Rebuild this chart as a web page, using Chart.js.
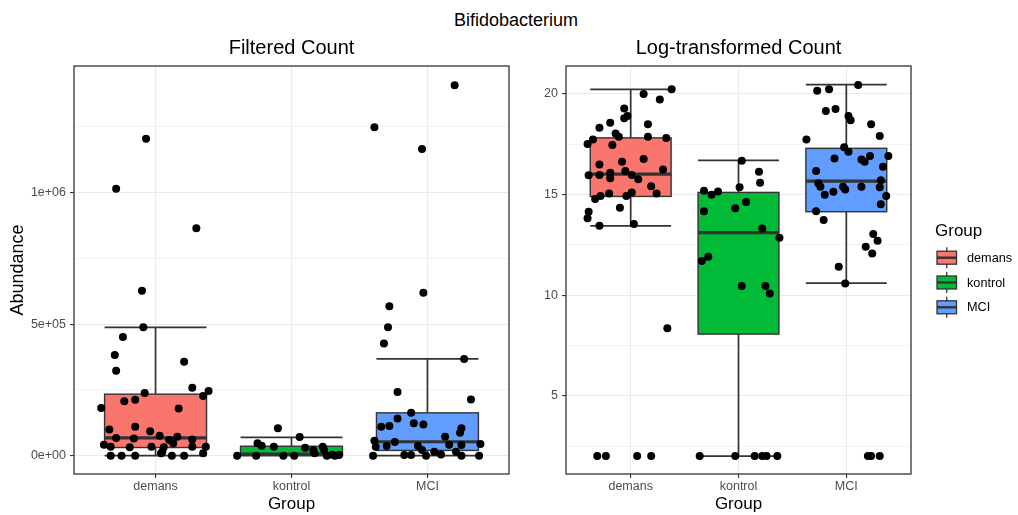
<!DOCTYPE html>
<html>
<head>
<title>Bifidobacterium</title>
<script src="https://cdn.jsdelivr.net/npm/chart.js@4"></script>
<style>
  body { margin: 0; background: #fff; width: 1018px; height: 515px; position: relative; overflow: hidden;
         font-family: "Liberation Sans", Arial, sans-serif; }
  #title { position: absolute; top: 10px; left: 516px; transform: translateX(-50%);
           font-size: 18px; line-height: 20px; white-space: nowrap; color: #000; }
  #left { position: absolute; left: 0; top: 0; }
  #right { position: absolute; left: 520px; top: 0; }
</style>
</head>
<body>
<div id="title">Bifidobacterium</div>
<canvas id="left" width="520" height="515"></canvas>
<canvas id="right" width="498" height="515"></canvas>

<script>
const groups = ['demans', 'kontrol', 'MCI'];

// box stats per group: lower whisker, Q1, median, Q3, upper whisker
const filteredBoxes = [
  [0, 31000, 68000, 234000, 488000],
  [0, 2000, 6000, 36000, 70000],
  [0, 20000, 53000, 163000, 368000]
];
const logBoxes = [
  [13.44, 14.90, 16.01, 17.81, 20.22],
  [2.0, 8.06, 13.10, 15.10, 16.69],
  [10.59, 14.14, 15.66, 17.29, 20.45]
];

const filteredMajorTicks = [0, 500000, 1000000];
const filteredTickLabels = ['0e+00', '5e+05', '1e+06'];
const filteredMinorTicks = [250000, 750000, 1250000];
const logMajorTicks = [5, 10, 15, 20];
const logTickLabels = ['5', '10', '15', '20'];
const logMinorTicks = [2.5, 7.5, 12.5, 17.5];

// filtered counts (values + horizontal jitter around the group)
const filteredDemans = [1205000, 1015000, 865000, 627000, 488000, 451000, 383000, 323000, 357000, 258000,
  238000, 246000, 227000, 181000, 207000, 213000, 179000, 100000, 110000, 93000,
  67000, 65000, 76000, 60000, 72000, 62000, 42000, 34000, 32000, 34000,
  32000, 47000, 34000, 34000, 9000, 15000, 0, 0, 0, 9000, 0, 0];
const filteredDemansJitter = [-0.07, -0.29, 0.30, -0.10, -0.09, -0.24, -0.30, -0.29, 0.21, 0.27,
  -0.08, 0.39, 0.35, -0.40, -0.23, -0.15, 0.17, -0.34, -0.15, -0.04,
  -0.29, -0.16, 0.03, 0.10, 0.16, 0.27, -0.38, -0.33, -0.19, -0.03,
  0.06, 0.13, 0.27, 0.37, 0.35, 0.05, -0.33, -0.25, -0.15, 0.04, 0.12, 0.21];

const filteredKontrol = [104000, 71000, 47000, 38000, 34000, 30000, 22000, 34000, 22000,
  0, 0, 0, 0, 9000, 0, 0, 3000, 4000];
const filteredKontrolJitter = [-0.10, 0.06, -0.25, -0.22, -0.13, 0.10, 0.16, 0.23, 0.24,
  -0.40, -0.26, -0.06, 0.02, 0.17, 0.26, 0.32, 0.35, 0.30];

const filteredMCI = [1409000, 1249000, 1166000, 620000, 568000, 488000, 427000, 368000, 242000, 214000,
  163000, 141000, 110000, 113000, 123000, 119000, 104000, 87000, 72000, 57000,
  52000, 42000, 34000, 37000, 37000, 41000, 44000, 22000, 15000, 15000,
  0, 3000, 3000, 0, 5000, 0, 0];
const filteredMCIJitter = [0.20, -0.39, -0.04, -0.03, -0.28, -0.29, -0.32, 0.27, -0.22, 0.32,
  -0.12, -0.22, -0.34, -0.28, -0.10, -0.03, 0.25, 0.24, 0.13, -0.39,
  -0.24, 0.16, -0.38, -0.30, -0.07, 0.25, 0.39, -0.04, 0.05, 0.21,
  -0.40, -0.17, -0.12, -0.01, 0.10, 0.25, 0.38];

// log-transformed counts
const logDemans = [20.22, 19.99, 19.72, 19.27, 18.89, 18.78, 18.56, 18.48, 18.31, 18.03,
  17.86, 17.86, 17.80, 17.73, 17.50, 17.45, 16.76, 16.62, 16.49, 16.24,
  16.16, 16.08, 15.95, 15.96, 15.96, 15.80, 15.75, 15.41, 15.05, 15.10,
  15.05, 14.92, 14.77, 14.92, 14.34, 14.14, 13.81, 13.44, 13.53, 8.35,
  2.0, 2.0, 2.0, 2.0];
const logDemansJitter = [0.38, 0.12, 0.27, -0.06, -0.03, -0.06, -0.19, 0.16, -0.29, -0.14,
  -0.11, 0.16, 0.33, -0.35, -0.40, -0.17, 0.12, -0.08, -0.29, 0.30,
  -0.05, -0.19, -0.39, -0.29, 0.01, -0.19, 0.07, 0.19, -0.20, 0.01,
  0.24, -0.28, -0.33, -0.04, -0.10, -0.39, -0.40, -0.29, 0.03, 0.34,
  -0.31, -0.23, 0.06, 0.19];

const logKontrol = [16.67, 16.13, 15.58, 15.35, 15.18, 14.98, 15.15, 14.62, 14.31, 14.16,
  13.31, 12.85, 11.90, 11.69, 10.45, 10.45, 10.08,
  2.0, 2.0, 2.0, 2.0, 2.0, 2.0];
const logKontrolJitter = [0.03, 0.19, 0.20, 0.01, -0.32, -0.25, -0.19, 0.07, -0.03, -0.32,
  0.22, 0.38, -0.28, -0.34, 0.03, 0.25, 0.29,
  -0.36, -0.03, 0.15, 0.22, 0.26, 0.36];

const logMCI = [20.43, 20.15, 20.23, 19.14, 19.24, 18.89, 18.69, 18.49, 17.90, 17.73,
  17.34, 17.12, 16.79, 16.74, 16.62, 16.91, 16.91, 16.37, 16.16, 15.71,
  15.55, 15.38, 15.38, 15.25, 15.38, 15.35, 15.13, 14.98, 14.92, 14.51,
  14.16, 13.73, 13.03, 12.70, 12.40, 12.07, 11.41, 10.58,
  2.0, 2.0, 2.0];
const logMCIJitter = [0.11, -0.27, -0.16, -0.19, -0.10, 0.02, 0.04, 0.23, 0.31, -0.37,
  -0.02, 0.02, -0.11, 0.14, 0.17, 0.22, 0.39, 0.34, -0.28, 0.32,
  -0.26, -0.24, -0.03, -0.01, 0.14, 0.31, -0.12, -0.20, 0.37, 0.32,
  -0.28, -0.21, 0.25, 0.29, 0.18, 0.24, -0.07, -0.01,
  0.20, 0.23, 0.31];

const groupColors = ['#F8766D', '#00BA38', '#619CFF'];
const lineColor = '#333333';
const boxWidth = 0.75;

Chart.defaults.font.family = "'Liberation Sans', Arial, sans-serif";

function toPoints(values, jitter, groupIndex) {
  return values.map((v, i) => ({ x: groupIndex + 1 + jitter[i], y: v }));
}

const boxplotPlugin = {
  id: 'boxplot',
  beforeDatasetsDraw(chart, args, opts) {
    const { ctx, chartArea, scales: { x, y } } = chart;
    ctx.save();
    ctx.beginPath();
    ctx.rect(chartArea.left, chartArea.top, chartArea.width, chartArea.height);
    ctx.clip();
    opts.stats.forEach((s, i) => {
      const cx = x.getPixelForValue(i + 1);
      const x0 = x.getPixelForValue(i + 1 - boxWidth / 2);
      const x1 = x.getPixelForValue(i + 1 + boxWidth / 2);
      const [lo, q1, med, q3, hi] = s.map(v => y.getPixelForValue(v));
      ctx.strokeStyle = lineColor;
      // errorbar with caps
      ctx.lineWidth = 1.7;
      ctx.beginPath();
      ctx.moveTo(cx, lo); ctx.lineTo(cx, hi);
      ctx.moveTo(x0, lo); ctx.lineTo(x1, lo);
      ctx.moveTo(x0, hi); ctx.lineTo(x1, hi);
      ctx.stroke();
      // box
      ctx.fillStyle = groupColors[i];
      ctx.fillRect(x0, q3, x1 - x0, q1 - q3);
      ctx.lineWidth = 1.4;
      ctx.strokeRect(x0, q3, x1 - x0, q1 - q3);
      // median
      ctx.lineWidth = 3.2;
      ctx.beginPath();
      ctx.moveTo(x0, med); ctx.lineTo(x1, med);
      ctx.stroke();
    });
    ctx.restore();
  },
  afterDraw(chart, args, opts) {
    const { ctx, chartArea } = chart;
    ctx.save();
    // panel border
    ctx.strokeStyle = lineColor;
    ctx.lineWidth = 1.3;
    ctx.strokeRect(chartArea.left, chartArea.top, chartArea.width, chartArea.height);
    // panel title
    ctx.fillStyle = '#000';
    ctx.font = "20px 'Liberation Sans', Arial, sans-serif";
    ctx.textAlign = 'center';
    ctx.textBaseline = 'middle';
    ctx.fillText(opts.title, (chartArea.left + chartArea.right) / 2, 48);
    // legend
    if (opts.legend) {
      const lx = chartArea.right + 26;
      ctx.textAlign = 'left';
      ctx.font = "17px 'Liberation Sans', Arial, sans-serif";
      ctx.fillText('Group', lx - 2, 231);
      ctx.font = "12.7px 'Liberation Sans', Arial, sans-serif";
      groups.forEach((g, i) => {
        const cy = 257.7 + i * 24.8;
        const kx = lx, kw = 19.5, bh = 13;
        ctx.strokeStyle = lineColor;
        ctx.lineWidth = 1.3;
        ctx.beginPath();
        ctx.moveTo(kx + kw / 2, cy - bh / 2 - 4); ctx.lineTo(kx + kw / 2, cy + bh / 2 + 4);
        ctx.stroke();
        ctx.fillStyle = groupColors[i];
        ctx.fillRect(kx, cy - bh / 2, kw, bh);
        ctx.strokeRect(kx, cy - bh / 2, kw, bh);
        ctx.lineWidth = 2.4;
        ctx.beginPath();
        ctx.moveTo(kx, cy); ctx.lineTo(kx + kw, cy);
        ctx.stroke();
        ctx.fillStyle = '#000';
        ctx.fillText(g, kx + 30, cy + 0.5);
      });
    }
    ctx.restore();
  }
};

function buildPanel(id, cfg) {
  const isMajor = v => cfg.majorTicks.includes(v);
  const datasets = cfg.series.map(([values, jitter], gi) => ({
    data: toPoints(values, jitter, gi),
    backgroundColor: '#000',
    borderWidth: 0,
    pointRadius: 4,
    pointHoverRadius: 4
  }));

  return new Chart(document.getElementById(id), {
    type: 'scatter',
    data: { datasets },
    plugins: [boxplotPlugin],
    options: {
      responsive: false,
      animation: false,
      layout: { padding: { top: 66, left: 0, right: cfg.padRight, bottom: 0 } },
      plugins: {
        legend: { display: false },
        tooltip: { enabled: false },
        boxplot: { stats: cfg.boxes, title: cfg.title, legend: cfg.legend }
      },
      scales: {
        x: {
          type: 'linear',
          min: 0.4,
          max: 3.6,
          afterBuildTicks: s => { s.ticks = groups.map((g, i) => ({ value: i + 1 })); },
          afterFit: s => { s.height = 41; },
          ticks: {
            callback: v => groups[v - 1],
            color: '#4D4D4D',
            font: { size: 12.5 },
            padding: 1,
            maxRotation: 0
          },
          grid: { color: '#EBEBEB', lineWidth: 1.1, tickColor: lineColor, tickLength: 4 },
          border: { display: false },
          title: { display: true, text: 'Group', color: '#000', font: { size: 17 }, padding: 0 }
        },
        y: {
          type: 'linear',
          min: cfg.yMin,
          max: cfg.yMax,
          afterBuildTicks: s => {
            s.ticks = cfg.majorTicks.concat(cfg.minorTicks).sort((a, b) => a - b).map(v => ({ value: v }));
          },
          afterFit: s => { s.width = cfg.yWidth; },
          ticks: {
            callback: v => isMajor(v) ? cfg.tickLabels[cfg.majorTicks.indexOf(v)] : '',
            color: '#4D4D4D',
            font: { size: 12.5 },
            padding: 4
          },
          grid: {
            color: '#EBEBEB',
            lineWidth: c => isMajor(c.tick.value) ? 1.1 : 0.6,
            tickColor: c => isMajor(c.tick.value) ? lineColor : 'rgba(0,0,0,0)',
            tickLength: 4
          },
          border: { display: false },
          title: {
            display: cfg.yTitle !== '',
            text: cfg.yTitle,
            color: '#000',
            font: { size: 18 },
            padding: { top: 7, bottom: 0 }
          }
        }
      }
    }
  });
}

buildPanel('left', {
  title: 'Filtered Count',
  yTitle: 'Abundance',
  yMin: -69600,
  yMax: 1481800,
  yWidth: 74,
  padRight: 11,
  majorTicks: filteredMajorTicks,
  minorTicks: filteredMinorTicks,
  tickLabels: filteredTickLabels,
  boxes: filteredBoxes,
  legend: false,
  series: [
    [filteredDemans, filteredDemansJitter],
    [filteredKontrol, filteredKontrolJitter],
    [filteredMCI, filteredMCIJitter]
  ]
});

buildPanel('right', {
  title: 'Log-transformed Count',
  yTitle: '',
  yMin: 1.11,
  yMax: 21.38,
  yWidth: 46,
  padRight: 107,
  majorTicks: logMajorTicks,
  minorTicks: logMinorTicks,
  tickLabels: logTickLabels,
  boxes: logBoxes,
  legend: true,
  series: [
    [logDemans, logDemansJitter],
    [logKontrol, logKontrolJitter],
    [logMCI, logMCIJitter]
  ]
});
</script>
</body>
</html>
